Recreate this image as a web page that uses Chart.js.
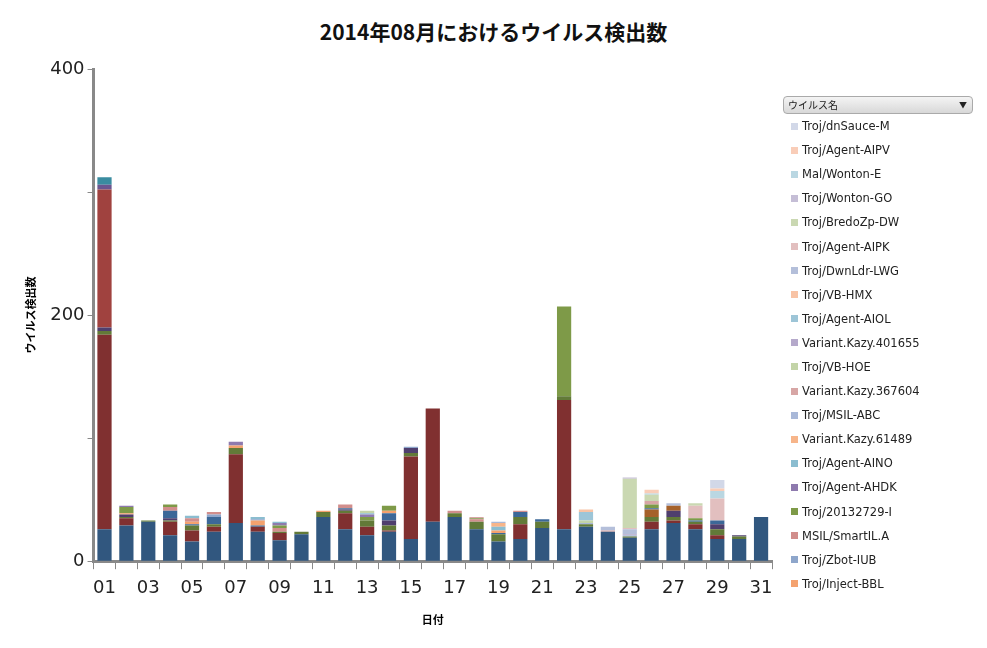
<!DOCTYPE html>
<html><head><meta charset="utf-8">
<script src="https://cdn.jsdelivr.net/npm/chart.js@4"></script>
<style>
body{margin:0;background:#fff;font-family:"Noto Sans CJK JP","DejaVu Sans",sans-serif;}
#wrap{position:relative;width:987px;height:648px;}
#title{position:absolute;left:0;top:16px;width:987px;text-align:center;font-weight:bold;font-size:21px;color:#111;}
#cv{position:absolute;left:0;top:0;}
#leg{position:absolute;left:783px;top:96px;width:190px;font-family:"DejaVu Sans",sans-serif;font-size:11.5px;color:#222;}
#hdr{height:16px;border:1px solid #aaa;border-radius:4px;background:linear-gradient(#f4f4f4,#d8d8d8);font-family:"Noto Sans CJK JP";font-size:10px;line-height:16px;padding-left:4px;position:relative;}
#hdr:after{content:"▼";position:absolute;right:5px;top:0;font-size:8px;}
.it{height:24.1px;display:flex;align-items:center;padding-left:8px;}
.sw{width:7px;height:7px;margin-right:4px;}
</style></head><body>
<div id="wrap"><div id="title">2014年08月におけるウイルス検出数</div>
<canvas id="cv" width="987" height="648"></canvas>
<div id="leg"><div id="hdr">ウイルス名</div></div></div>
<script>
const days=[];for(let i=1;i<=31;i++)days.push(String(i).padStart(2,'0'));
// hidden base series (not in visible legend area)
const baseBlue=[26,29,32,21,16,24,31,24,17,22,36,26,21,24,18,32,36,26,16,18,27,26,28,24,19,26,31,26,18,18,36];
const baseDarkRed=[158,6,0,11,9,4,56,4,6,0,0,13,7,1,67,92,0,0,0,12,0,105,0,0,0,6,2,4,3,0,0];
const baseOlive=[3,1,1,1,4,2,5,0,1,2,4,2,5,4,3,0,3,6,6,6,5,3,2,0,1,4,3,2,5,2,0];
const basePurple=[3,2,0,2,0,0,0,0,0,0,0,1,0,4,4,0,0,0,0,0,0,0,0,0,0,0,5,0,4,1,0];
const baseBrown=[0,0,0,0,0,0,0,0,0,0,0,0,0,0,0,0,0,0,0,0,0,0,0,0,0,6,4,0,0,0,0];
const baseBlue2=[0,0,0,6,1,6,0,1,0,0,0,1,0,6,0,0,0,0,1,4,2,0,0,0,0,1,0,1,3,0,0];
const baseRed=[112,0,0,0,0,0,0,0,0,0,0,0,0,0,0,0,0,0,0,0,0,0,0,0,0,0,0,0,0,0,0];
const baseViolet=[4,0,0,0,0,0,0,0,0,0,0,0,0,0,0,0,0,0,0,0,0,0,0,0,0,0,0,0,0,0,0];
const baseTeal=[6,0,0,0,0,0,0,0,0,0,0,0,0,0,0,0,0,0,0,0,0,0,0,0,0,0,0,0,0,0,0];
function z(o){const a=new Array(31).fill(0);for(const k in o)a[k-1]=o[k];return a;}
const injectBBL=z({2:1,5:2,7:2,8:4,11:1,14:2,19:2});
const zbotIUB=z({6:2,8:1,15:1});
const smartIL=z({4:3,5:3,6:2,9:3,12:3,17:2,18:2,20:1});
const t20132729=z({2:5,4:2,9:2,13:3,14:4,18:1,22:73,26:3,28:2});
const agentAHDK=z({2:1,7:3,9:2,13:2});
const agentAINO=z({5:2,8:2,9:1,13:1,19:3});
const kazy61489=z({19:3});
const msilABC=z({19:1,23:1,25:1});
const kazy367604=z({18:1,24:1,26:3});
const vbHOE=z({13:2,23:2});
const kazy401655=z({25:1});
const agentAIOL=z({23:7});
const vbHMX=z({23:2});
const dwnLdrLWG=z({24:3,25:4,27:2});
const agentAIPK=z({25:1,28:10,29:18});
const bredoZp=z({25:40,26:5,28:2});
const wontonGO=z({25:1});
const wontonE=z({26:1,29:6});
const agentAIPV=z({26:3,29:2});
const dnSauce=z({29:7});
const hidden=[["Base-A",baseBlue,"#31577F"],["Base-B",baseDarkRed,"#803030"],["Base-C",baseOlive,"#627A38"],["Base-D",basePurple,"#4F3F6E"],["Base-E",baseBrown,"#A5612A"],["Base-F",baseBlue2,"#3C6898"],["Base-G",baseRed,"#A0423F"],["Base-H",baseViolet,"#6B5690"],["Base-I",baseTeal,"#3A8CA0"]];
const shown=[["Troj/Inject-BBL",injectBBL,"#F4A26F"],["Troj/Zbot-IUB",zbotIUB,"#8EA6CB"],["MSIL/SmartIL.A",smartIL,"#D18E8C"],["Troj/20132729-I",t20132729,"#7E9A48"],["Troj/Agent-AHDK",agentAHDK,"#8E7AAE"],["Troj/Agent-AINO",agentAINO,"#8BBDD0"],["Variant.Kazy.61489",kazy61489,"#F7B58A"],["Troj/MSIL-ABC",msilABC,"#A9B8D8"],["Variant.Kazy.367604",kazy367604,"#D7A6A5"],["Troj/VB-HOE",vbHOE,"#C3D4A8"],["Variant.Kazy.401655",kazy401655,"#B5A9CB"],["Troj/Agent-AIOL",agentAIOL,"#9DC5D7"],["Troj/VB-HMX",vbHMX,"#F8C3A5"],["Troj/DwnLdr-LWG",dwnLdrLWG,"#B4BFDA"],["Troj/Agent-AIPK",agentAIPK,"#E2BFBF"],["Troj/BredoZp-DW",bredoZp,"#CAD8B2"],["Troj/Wonton-GO",wontonGO,"#C5BED6"],["Mal/Wonton-E",wontonE,"#BAD7E2"],["Troj/Agent-AIPV",agentAIPV,"#F9CDB8"],["Troj/dnSauce-M",dnSauce,"#D2D8E8"]];
const ds=[...hidden,...shown].map(([l,d,c])=>({label:l,data:d,backgroundColor:c,borderWidth:0,barPercentage:0.65,categoryPercentage:1}));
const leg=document.getElementById('leg');
shown.slice().reverse().forEach(([l,d,c])=>{const e=document.createElement('div');e.className='it';e.innerHTML='<span class="sw" style="background:'+c+'"></span>'+l;leg.appendChild(e);});
new Chart(document.getElementById('cv'),{type:'bar',data:{labels:days,datasets:ds},
options:{responsive:false,animation:false,layout:{padding:{top:69,right:215,left:20,bottom:8}},
plugins:{legend:{display:false},tooltip:{enabled:false}},
scales:{x:{stacked:true,grid:{display:true,drawOnChartArea:false,tickLength:8,color:'#898989',offset:true},border:{color:'#898989',width:3},
ticks:{autoSkip:false,maxRotation:0,color:'#222',padding:8,font:{size:18,family:'DejaVu Sans'},callback:(v,i)=>i%2===0?days[i]:''},
title:{display:true,text:'日付',font:{size:11,weight:'bold',family:'Noto Sans CJK JP'},color:'#000',padding:{top:6,bottom:14}}},
y:{stacked:true,min:0,max:400,grid:{display:true,drawOnChartArea:false,tickLength:6,color:'#898989'},border:{color:'#898989',width:3},
ticks:{stepSize:100,color:'#222',font:{size:18,family:'DejaVu Sans'},callback:v=>v%200===0?v:''},
title:{display:true,text:'ウイルス検出数',font:{size:11,weight:'bold',family:'Noto Sans CJK JP'},color:'#000',padding:{bottom:10}}}}}});
</script></body></html>
